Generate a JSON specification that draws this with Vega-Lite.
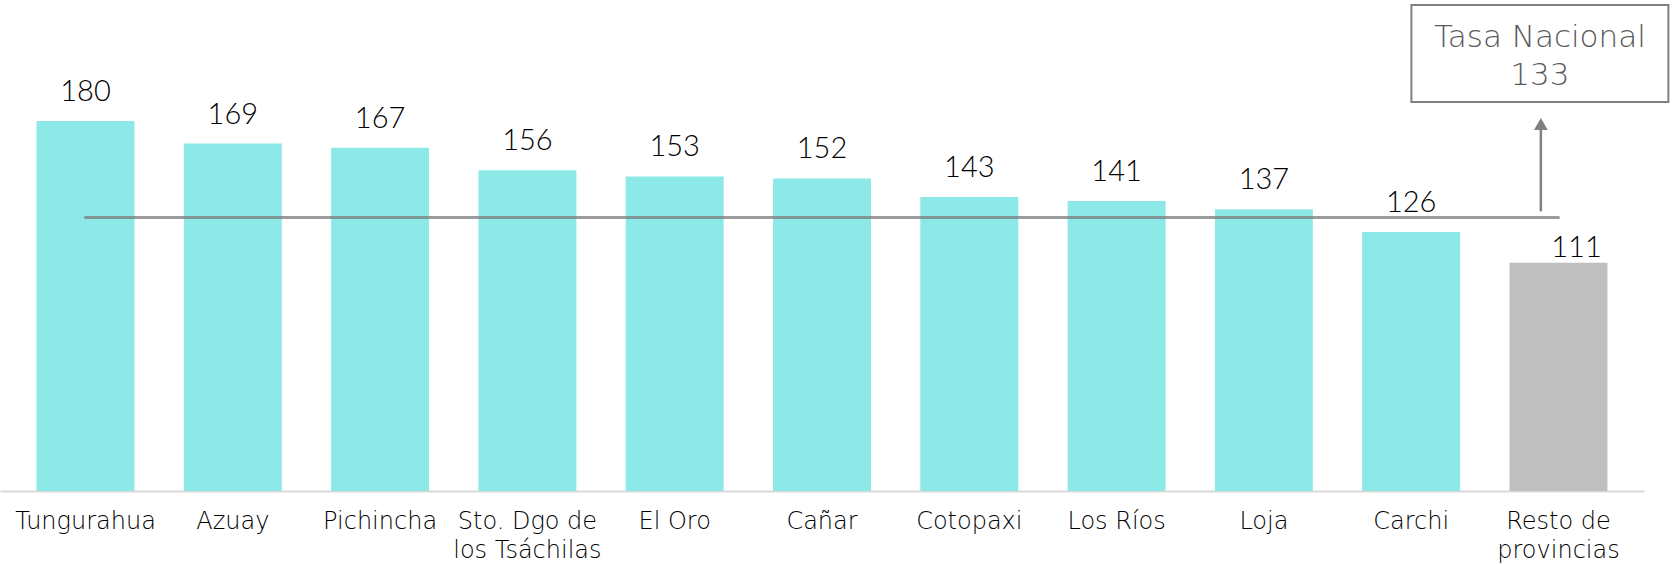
{
  "$schema": "https://vega.github.io/schema/vega-lite/v6.json",
  "width": 1644,
  "height": 491,
  "autosize": {"type": "none"},
  "padding": {"left": 0, "top": 0, "right": 29, "bottom": 73},
  "background": "#ffffff",
  "config": {"view": {"stroke": null}, "font": "Lato"},
  "data": {
    "values": [
      {"provincia": "Tungurahua", "tasa": 180},
      {"provincia": "Azuay", "tasa": 169},
      {"provincia": "Pichincha", "tasa": 167},
      {"provincia": "Sto. Dgo de los Tsáchilas", "tasa": 156},
      {"provincia": "El Oro", "tasa": 153},
      {"provincia": "Cañar", "tasa": 152},
      {"provincia": "Cotopaxi", "tasa": 143},
      {"provincia": "Los Ríos", "tasa": 141},
      {"provincia": "Loja", "tasa": 137},
      {"provincia": "Carchi", "tasa": 126},
      {"provincia": "Resto de provincias", "tasa": 111}
    ]
  },
  "layer": [
    {
      "mark": {"type": "bar"},
      "encoding": {
        "x": {
          "field": "provincia", "type": "nominal", "sort": null,
          "scale": {
            "domain": ["Tungurahua", "Azuay", "Pichincha", "Sto. Dgo de los Tsáchilas", "El Oro", "Cañar", "Cotopaxi", "Los Ríos", "Loja", "Carchi", "Resto de provincias"],
            "paddingInner": 0.335, "paddingOuter": 0.248
          },
          "axis": {
            "title": null, "domainColor": "#d9d9d9", "domainWidth": 2, "ticks": false,
            "labelFontSize": 24, "labelFontWeight": 200, "labelColor": "#000000", "labelAngle": 0, "labelPadding": 18,
            "labelLineHeight": 29, "labelBaseline": "top", "labelOverlap": false, "labelLimit": 400,
            "labelFont": "DejaVu Sans",
            "labelExpr": "datum.label == 'Sto. Dgo de los Tsáchilas' ? ['Sto. Dgo de', 'los Tsáchilas'] : datum.label == 'Resto de provincias' ? ['Resto de', 'provincias'] : datum.label"
          }
        },
        "y": {
          "field": "tasa", "type": "quantitative",
          "scale": {"domain": [0, 238.8], "nice": false, "zero": true},
          "axis": null
        },
        "color": {
          "condition": {"test": "datum.provincia === 'Resto de provincias'", "value": "#bfbfbf"},
          "value": "#8ce9e8"
        }
      }
    },
    {
      "transform": [{"filter": "datum.provincia !== 'Resto de provincias'"}],
      "mark": {"type": "text", "font": "Lato", "fontWeight": 300, "fontSize": 29, "color": "#000000", "baseline": "alphabetic", "dy": -20},
      "encoding": {
        "x": {"field": "provincia", "type": "nominal", "sort": null},
        "y": {"field": "tasa", "type": "quantitative", "axis": null},
        "text": {"field": "tasa"}
      }
    },
    {
      "transform": [{"filter": "datum.provincia === 'Resto de provincias'"}],
      "mark": {"type": "text", "font": "Lato", "fontWeight": 300, "fontSize": 29, "color": "#000000", "baseline": "alphabetic", "dy": -6, "dx": 18},
      "encoding": {
        "x": {"field": "provincia", "type": "nominal", "sort": null},
        "y": {"field": "tasa", "type": "quantitative", "axis": null},
        "text": {"field": "tasa"}
      }
    },
    {
      "data": {"values": [{"nombre": "Tasa Nacional", "tasa": 133}]},
      "mark": {"type": "rule", "color": "#7a7a7a", "opacity": 0.75, "strokeWidth": 3, "strokeCap": "round"},
      "encoding": {
        "x": {"datum": "Tungurahua", "type": "nominal"},
        "x2": {"datum": "Resto de provincias"},
        "y": {"field": "tasa", "type": "quantitative", "axis": null}
      }
    },
    {
      "data": {"values": [{"nombre": "Tasa Nacional", "tasa": 133}]},
      "mark": {"type": "rule", "color": "#808080", "strokeWidth": 2.5},
      "encoding": {
        "x": {"datum": "Resto de provincias", "type": "nominal", "bandPosition": 0.32},
        "y": {"datum": 136, "type": "quantitative", "axis": null},
        "y2": {"datum": 176}
      }
    },
    {
      "data": {"values": [{"nombre": "Tasa Nacional", "tasa": 133}]},
      "mark": {"type": "point", "shape": "triangle-up", "filled": true, "size": 190, "color": "#808080", "opacity": 1},
      "encoding": {
        "x": {"datum": "Resto de provincias", "type": "nominal", "bandPosition": 0.32},
        "y": {"datum": 178.5, "type": "quantitative", "axis": null}
      }
    },
    {
      "data": {"values": [{"nombre": "Tasa Nacional", "tasa": 133}]},
      "mark": {"type": "point", "shape": "M-1,-0.377H1V0.377H-1Z", "filled": false, "size": 66049, "stroke": "#808080", "strokeWidth": 2, "opacity": 1},
      "encoding": {
        "x": {"datum": "Resto de provincias", "type": "nominal", "bandPosition": 0.31},
        "y": {"datum": 212.8, "type": "quantitative", "axis": null}
      }
    },
    {
      "data": {"values": [{"nombre": "Tasa Nacional", "tasa": 133}]},
      "mark": {"type": "text", "font": "DejaVu Sans", "fontWeight": 200, "fontSize": 31, "color": "#595959", "baseline": "alphabetic"},
      "encoding": {
        "x": {"datum": "Resto de provincias", "type": "nominal", "bandPosition": 0.31},
        "y": {"datum": 216.1, "type": "quantitative", "axis": null},
        "text": {"field": "nombre"}
      }
    },
    {
      "data": {"values": [{"nombre": "Tasa Nacional", "tasa": 133}]},
      "mark": {"type": "text", "font": "DejaVu Sans", "fontWeight": 200, "fontSize": 31, "color": "#595959", "baseline": "alphabetic"},
      "encoding": {
        "x": {"datum": "Resto de provincias", "type": "nominal", "bandPosition": 0.31},
        "y": {"datum": 197.5, "type": "quantitative", "axis": null},
        "text": {"field": "tasa"}
      }
    }
  ]
}
